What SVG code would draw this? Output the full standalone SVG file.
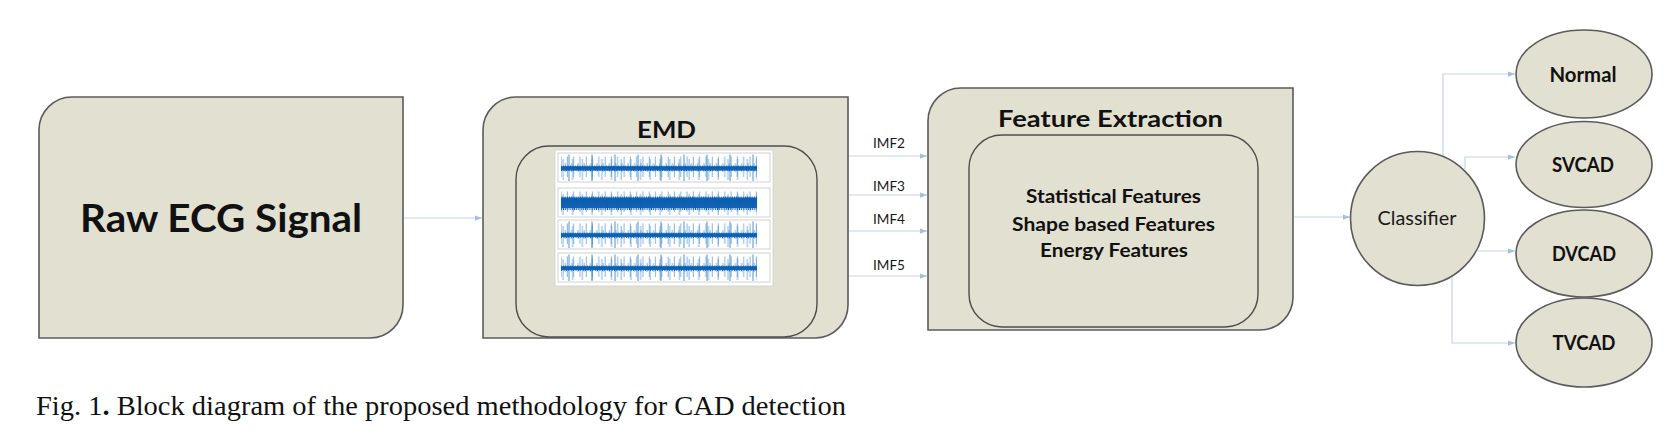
<svg xmlns="http://www.w3.org/2000/svg" width="1674" height="438" viewBox="0 0 1674 438">
<defs>
<style>
.box{fill:#e2e0d0;stroke:#5b5b5b;stroke-width:1.6}
.inner{fill:#e2e0d0;stroke:#4d4d4d;stroke-width:1.4}
.conn{fill:none;stroke:#c4d4ec;stroke-width:1.2}
.b{font-family:Lato,"Liberation Sans",sans-serif;font-weight:bold;fill:#111;text-anchor:middle}
.n{font-family:Lato,"Liberation Sans",sans-serif;fill:#1a1a1a}
.cap{font-family:"Liberation Serif","Times New Roman",serif;fill:#111}
.pbox{fill:#fff;stroke:#bdbdbd;stroke-width:0.7}
</style>
<marker id="ah" viewBox="0 0 8 6" refX="8" refY="3" markerWidth="7" markerHeight="5.5" markerUnits="userSpaceOnUse" orient="auto">
<path d="M0,0L8,3L0,6Z" fill="#a3bfe2"/>
</marker>
<pattern id="spA" width="6.3" height="29" patternUnits="userSpaceOnUse"><path d="M3,3.5V24M1,10V19" stroke="#5c9fd8" stroke-width="0.8"/></pattern>
<pattern id="spB" width="9.7" height="29" patternUnits="userSpaceOnUse"><path d="M5,6V27" stroke="#4a8fd0" stroke-width="0.7"/></pattern>
<pattern id="spC" width="23" height="29" patternUnits="userSpaceOnUse"><path d="M11,1.5V28" stroke="#3d84c9" stroke-width="0.9"/></pattern>
<pattern id="nz" width="2.4" height="29" patternUnits="userSpaceOnUse"><path d="M0,15.5L0.6,12.5L1.2,18L1.8,13.5L2.4,15.5" fill="none" stroke="#0c5fb0" stroke-width="0.9"/></pattern>
<pattern id="nzT" width="2.2" height="29" patternUnits="userSpaceOnUse"><path d="M0,15.5L0.55,8.5L1.1,22L1.65,9.5L2.2,15.5" fill="none" stroke="#0c5fb0" stroke-width="1"/></pattern>
</defs>
<rect width="1674" height="438" fill="#fff"/>

<g id="connectors">
<path class="conn" d="M403,218H482" marker-end="url(#ah)"/>
<path class="conn" d="M848,156H927" marker-end="url(#ah)"/>
<path class="conn" d="M848,195H927" marker-end="url(#ah)"/>
<path class="conn" d="M848,231H927" marker-end="url(#ah)"/>
<path class="conn" d="M848,276H927" marker-end="url(#ah)"/>
<path class="conn" d="M1293,217H1350" marker-end="url(#ah)"/>
<path class="conn" d="M1443,156V74H1515" marker-end="url(#ah)"/>
<path class="conn" d="M1465,169V157H1515" marker-end="url(#ah)"/>
<path class="conn" d="M1477,251H1515" marker-end="url(#ah)"/>
<path class="conn" d="M1452,276V343H1515" marker-end="url(#ah)"/>
</g>

<g id="raw-ecg">
<path class="box" d="M72,97H403V305A33,33 0 0 1 370,338H39V130A33,33 0 0 1 72,97Z"/>
<text class="b" x="221" y="232" font-size="39" textLength="282" lengthAdjust="spacingAndGlyphs">Raw ECG Signal</text>
</g>

<g id="emd">
<path class="box" d="M516,97H848V305A33,33 0 0 1 815,338H483V130A33,33 0 0 1 516,97Z"/>
<text class="b" x="666.5" y="138" font-size="22" textLength="59" lengthAdjust="spacingAndGlyphs">EMD</text>
<rect class="inner" x="516" y="146" width="301" height="191" rx="33"/>
<g id="emd-plot">
<rect x="555" y="150" width="218" height="136" fill="#fff" stroke="#d0d0d0" stroke-width="0.8"/>
<g transform="translate(558,153)">
<rect class="pbox" width="212" height="29"/>
<rect x="3" width="196" height="29" fill="url(#spA)"/>
<rect x="3" width="196" height="29" fill="url(#spB)"/>
<rect x="3" width="196" height="29" fill="url(#spC)"/>
<rect x="3" y="13.5" width="196" height="4" fill="#1769bf"/>
<rect x="3" width="196" height="29" fill="url(#nz)"/>
</g>
<g transform="translate(558,188)">
<rect class="pbox" width="212" height="29"/>
<rect x="3" y="2" width="196" height="26" fill="url(#spB)"/>
<rect x="3" y="3" width="196" height="24" fill="url(#spA)"/>
<rect x="3" y="11" width="196" height="9" fill="#1565bd"/>
<rect x="3" width="196" height="29" fill="url(#nzT)"/>
</g>
<g transform="translate(558,220)">
<rect class="pbox" width="212" height="29"/>
<rect x="3" width="196" height="29" fill="url(#spA)"/>
<rect x="3" width="196" height="29" fill="url(#spB)"/>
<rect x="3" width="196" height="29" fill="url(#spC)"/>
<rect x="3" y="13.5" width="196" height="3.5" fill="#1769bf"/>
<rect x="3" width="196" height="29" fill="url(#nz)"/>
</g>
<g transform="translate(558,253)">
<rect class="pbox" width="212" height="29"/>
<rect x="3" width="196" height="29" fill="url(#spA)"/>
<rect x="3" width="196" height="29" fill="url(#spB)"/>
<rect x="3" width="196" height="29" fill="url(#spC)"/>
<rect x="3" y="13.5" width="196" height="3.5" fill="#1769bf"/>
<rect x="3" width="196" height="29" fill="url(#nz)"/>
</g>
</g>
</g>

<g id="imf-labels">
<text class="n" x="873" y="148" font-size="13" textLength="32" lengthAdjust="spacingAndGlyphs">IMF2</text>
<text class="n" x="873" y="191" font-size="13" textLength="32" lengthAdjust="spacingAndGlyphs">IMF3</text>
<text class="n" x="873" y="224" font-size="13" textLength="32" lengthAdjust="spacingAndGlyphs">IMF4</text>
<text class="n" x="873" y="270" font-size="13" textLength="32" lengthAdjust="spacingAndGlyphs">IMF5</text>
</g>

<g id="feature-extraction">
<path class="box" d="M961,88H1293V297A33,33 0 0 1 1260,330H928V121A33,33 0 0 1 961,88Z"/>
<text class="b" x="1110.5" y="127" font-size="22" textLength="225" lengthAdjust="spacingAndGlyphs">Feature Extraction</text>
<rect class="inner" x="969" y="135" width="289" height="192" rx="33"/>
<text class="b" x="1113.5" y="203" font-size="18.5" textLength="175" lengthAdjust="spacingAndGlyphs">Statistical Features</text>
<text class="b" x="1113.5" y="231" font-size="18.5" textLength="203" lengthAdjust="spacingAndGlyphs">Shape based Features</text>
<text class="b" x="1114" y="257" font-size="18.5" textLength="148" lengthAdjust="spacingAndGlyphs">Energy Features</text>
</g>

<g id="classifier">
<circle class="box" cx="1417.5" cy="218.5" r="67"/>
<text class="n" x="1417" y="225" font-size="18.5" text-anchor="middle" textLength="79" lengthAdjust="spacingAndGlyphs">Classifier</text>
</g>

<g id="normal">
<ellipse class="box" cx="1584" cy="74" rx="68" ry="44"/>
<text class="b" x="1583" y="82" font-size="20" textLength="67" lengthAdjust="spacingAndGlyphs">Normal</text>
</g>
<g id="svcad">
<ellipse class="box" cx="1584" cy="164.5" rx="68" ry="43"/>
<text class="b" x="1583" y="171.5" font-size="20" textLength="62" lengthAdjust="spacingAndGlyphs">SVCAD</text>
</g>
<g id="dvcad">
<ellipse class="box" cx="1584" cy="253.5" rx="68" ry="43.5"/>
<text class="b" x="1584" y="260.5" font-size="20" textLength="64" lengthAdjust="spacingAndGlyphs">DVCAD</text>
</g>
<g id="tvcad">
<ellipse class="box" cx="1584" cy="342.5" rx="68" ry="44.5"/>
<text class="b" x="1584" y="350" font-size="20" textLength="63" lengthAdjust="spacingAndGlyphs">TVCAD</text>
</g>

<text class="cap" x="36" y="415" font-size="27" textLength="810" lengthAdjust="spacingAndGlyphs">Fig. 1<tspan font-weight="bold">.</tspan> Block diagram of the proposed methodology for CAD detection</text>
</svg>
